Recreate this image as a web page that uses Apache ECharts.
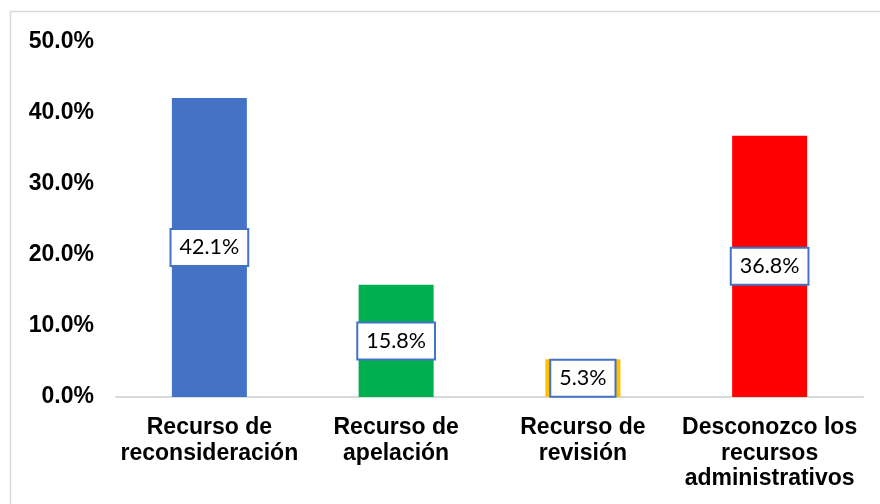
<!DOCTYPE html>
<html>
<head>
<meta charset="utf-8">
<script src="https://cdn.jsdelivr.net/npm/echarts@6/dist/echarts.min.js"></script>
<style>
  html, body { margin: 0; padding: 0; background: #fff; }
  #chart { width: 880px; height: 504px; }
</style>
</head>
<body>
<div id="chart"></div>
<script>
var categories = [
  'Recurso de\nreconsideración',
  'Recurso de\napelación',
  'Recurso de\nrevisión',
  'Desconozco los\nrecursos\nadministrativos'
];
var values = [42.1, 15.8, 5.3, 36.8];
var barColors = ['#4472C4', '#00B050', '#FFC000', '#FF0000'];
var yTicks = [0, 10, 20, 30, 40, 50];

var chart = echarts.init(document.getElementById('chart'));

var option = {
  backgroundColor: '#fff',
  animation: false,
  graphic: [{
    type: 'rect',
    shape: { x: 10.5, y: 11.5, width: 900, height: 520 },
    style: { fill: 'none', stroke: '#D9D9D9', lineWidth: 1.5 },
    silent: true
  }],
  grid: {
    left: 116,
    right: 17,
    top: 42,
    bottom: 107
  },
  xAxis: {
    type: 'category',
    data: categories,
    axisLine: { lineStyle: { color: '#D9D9D9', width: 2 } },
    axisTick: { show: false },
    axisLabel: {
      interval: 0,
      margin: 18,
      color: '#000',
      fontFamily: 'Liberation Sans, Arial, sans-serif',
      fontWeight: 'bold',
      fontSize: 23,
      lineHeight: 25.5
    }
  },
  yAxis: {
    type: 'value',
    min: yTicks[0],
    max: yTicks[yTicks.length - 1],
    interval: 10,
    splitLine: { show: false },
    axisLine: { show: false },
    axisTick: { show: false },
    axisLabel: {
      margin: 22,
      color: '#000',
      fontFamily: 'Liberation Sans, Arial, sans-serif',
      fontWeight: 'bold',
      fontSize: 23,
      formatter: function (v) { return v.toFixed(1) + '%'; }
    }
  },
  series: [{
    type: 'bar',
    barWidth: 75,
    data: values.map(function (v, i) {
      return { value: v, itemStyle: { color: barColors[i] } };
    }),
    label: {
      show: true,
      position: 'inside',
      formatter: function (p) { return p.value.toFixed(1) + '%'; },
      color: '#000',
      fontFamily: 'Lato, Open Sans, sans-serif',
      fontSize: 21.5,
      lineHeight: 25,
      backgroundColor: '#fff',
      borderColor: '#4472C4',
      borderWidth: 2,
      padding: [5, 8, 5, 8]
    }
  }]
};

chart.setOption(option);
</script>
</body>
</html>
